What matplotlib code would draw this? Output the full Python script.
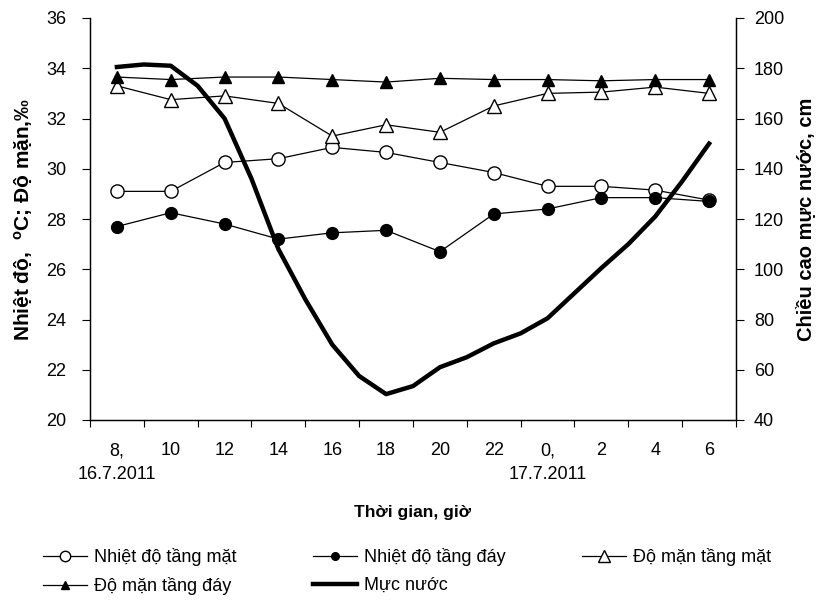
import matplotlib
matplotlib.use('Agg')
import matplotlib.pyplot as plt
from matplotlib.lines import Line2D
import numpy as np

plt.rcParams['font.family'] = ['Liberation Sans', 'DejaVu Sans']
plt.rcParams['mathtext.fontset'] = 'custom'
plt.rcParams['mathtext.rm'] = 'Liberation Sans'
plt.rcParams['mathtext.bf'] = 'Liberation Sans:bold'

# nhan truc x (gio)
gio = ["8,\n16.7.2011", "10", "12", "14", "16", "18", "20", "22",
       "0,\n17.7.2011", "2", "4", "6"]

# so lieu
nhiet_do_mat = [29.1, 29.1, 30.25, 30.4, 30.85, 30.65, 30.25, 29.85, 29.3, 29.3, 29.15, 28.75]
nhiet_do_day = [27.7, 28.25, 27.8, 27.2, 27.45, 27.55, 26.7, 28.2, 28.4, 28.85, 28.85, 28.7]
do_man_mat = [33.3, 32.75, 32.9, 32.6, 31.3, 31.75, 31.45, 32.5, 33.0, 33.05, 33.25, 33.0]
do_man_day = [33.65, 33.55, 33.65, 33.65, 33.55, 33.45, 33.6, 33.55, 33.55, 33.5, 33.55, 33.55]

# muc nuoc theo tung gio, tu 8h ngay 16 den 6h ngay 17
gio_muc_nuoc = [8, 9, 10, 11, 12, 13, 14, 15, 16, 17, 18, 19, 20, 21, 22, 23, 24,
                25, 26, 27, 28, 29, 30]
muc_nuoc = [180.5, 181.5, 181.0, 173, 160, 136, 108, 88, 70, 57.5, 50.3, 53.5, 61,
            65, 70.5, 74.5, 80.5, 90.5, 100.5, 110, 121, 135, 150]

x = np.arange(len(gio))
x_muc_nuoc = (np.array(gio_muc_nuoc) - 8) / 2.0

fig = plt.figure(figsize=(8.2, 6.05), dpi=100)
ax = fig.add_axes([90/820, 1-420/605, (736-90)/820, (420-18)/605])
ax2 = ax.twinx()

ax.plot(x, nhiet_do_mat, color='black', lw=0.9, marker='o', ms=9.5, mfc='white', mec='black', mew=1.0)
ax.plot(x, nhiet_do_day, color='black', lw=0.9, marker='o', ms=8.5, mfc='black', mec='black')
ax.plot(x, do_man_mat, color='black', lw=0.9, marker='^', ms=10.5, mfc='white', mec='black', mew=1.0)
ax.plot(x, do_man_day, color='black', lw=0.9, marker='^', ms=8.5, mfc='black', mec='black')
ax2.plot(x_muc_nuoc, muc_nuoc, color='black', lw=3.2, solid_joinstyle='round')

ax.set_xlim(-0.5, 11.5)
ax.set_ylim(20, 36)
ax2.set_ylim(40, 200)
ax.set_yticks(np.arange(20, 37, 2))
ax2.set_yticks(np.arange(40, 201, 20))

# nhan o giua, vach o bien
ax.set_xticks(x)
ax.set_xticklabels(gio, linespacing=1.5)
ax.set_xticks(np.arange(-0.5, 12, 1), minor=True)
ax.tick_params(axis='x', which='major', length=0, pad=16, labelsize=13)
ax.tick_params(axis='x', which='minor', length=5, width=0.8, direction='out')
ax.tick_params(axis='y', length=6, width=0.8, direction='out', pad=11, labelsize=13)
ax2.tick_params(axis='y', length=6, width=0.8, direction='out', pad=7, labelsize=13)

for a in (ax, ax2):
    a.spines['top'].set_visible(False)
    for s in ('left', 'right', 'bottom'):
        a.spines[s].set_linewidth(0.9)

ax.set_ylabel(r"Nhiệt độ,  $\mathbf{^{o}}$C; Độ mặn,‰", fontsize=15, fontweight='bold', labelpad=8)
ax2.set_ylabel("Chiều cao mực nước, cm", fontsize=14.5, fontweight='bold', labelpad=8)
ax.set_xlabel("Thời gian, giờ", fontsize=12.5, fontweight='bold', labelpad=16)

# chu giai
h_mat = Line2D([], [], color='black', lw=0.9, marker='o', ms=7.5, mfc='white', mec='black')
h_day = Line2D([], [], color='black', lw=0.9, marker='o', ms=5.5, mfc='black', mec='black')
h_man_mat = Line2D([], [], color='black', lw=0.9, marker='^', ms=8, mfc='white', mec='black')
h_man_day = Line2D([], [], color='black', lw=0.9, marker='^', ms=6, mfc='black', mec='black')
h_muc = Line2D([], [], color='black', lw=3.2)
handles = [h_mat, h_man_day, h_day, h_muc, h_man_mat]
labels = ["Nhiệt độ tầng mặt", "Độ mặn tầng đáy", "Nhiệt độ tầng đáy", "Mực nước", "Độ mặn tầng mặt"]
fig.legend(handles, labels, ncol=3, loc='upper left', bbox_to_anchor=(43/820, 1-548/605),
           frameon=False, fontsize=13, handlelength=2.45, handletextpad=0.4,
           columnspacing=4.2, labelspacing=0.6, borderpad=0, borderaxespad=0)

fig.savefig('out.png', dpi=100)
